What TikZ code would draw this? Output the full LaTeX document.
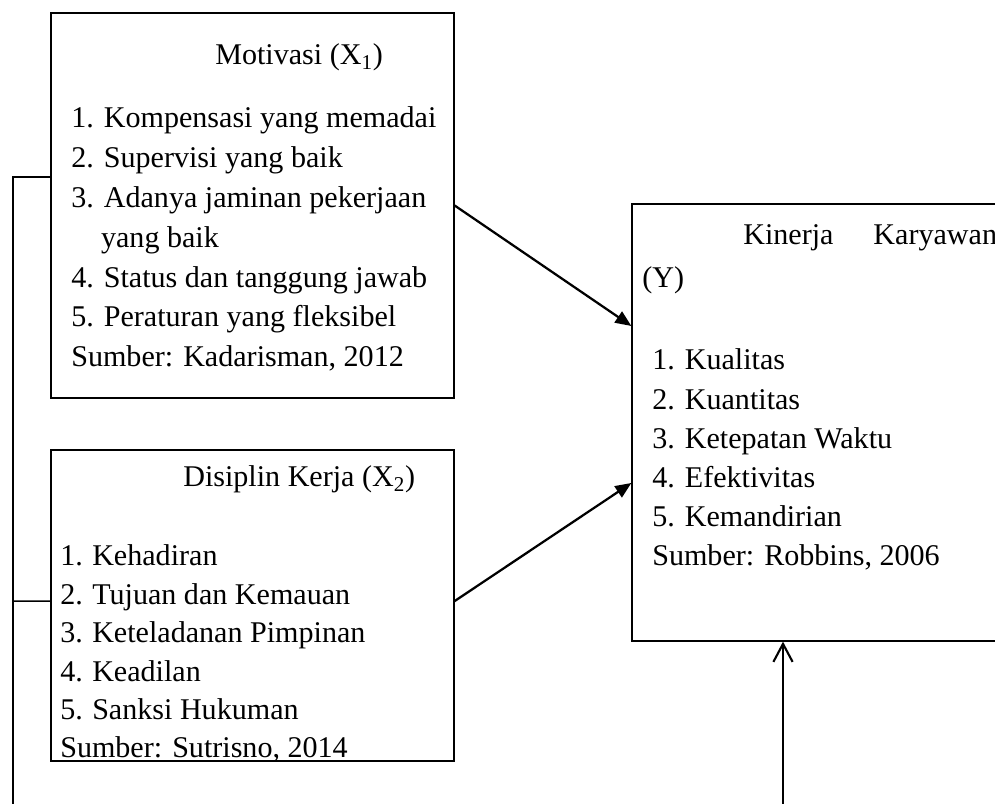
\documentclass[tikz,border=0pt]{standalone}
\usepackage{fontspec}
\setmainfont{Liberation Serif}
\usetikzlibrary{arrows.meta}
\begin{document}
\begin{tikzpicture}[
  box/.style = {draw, line width=0.9pt, rectangle, inner sep=0pt},
  txt/.style = {anchor=base west, inner sep=0pt, font=\fontsize{21.4}{25}\selectfont},
  link/.style = {line width=1.1pt},
  arr/.style = {line width=1.6pt, -{Triangle[length=4mm,width=3.3mm]}},
  openarr/.style = {line width=1.5pt, -{Straight Barb[length=4.5mm,width=4.8mm]}}
]
\useasboundingbox (0,0) rectangle (24.875,20.1);
%% boxes
\node [box, minimum width=10.075cm, minimum height=9.625cm]  (motiv)    at (6.3125,14.9625) {};
\node [box, minimum width=10.075cm, minimum height=7.775cm]  (disiplin) at (6.3125,4.9625)  {};
\node [box, minimum width=9.5cm,    minimum height=10.925cm] (kinerja)  at (20.55,9.5375)   {};
%% Motivasi
\node [txt] (mottitle) at (5.375,18.475) {Motivasi (X\textsubscript{1})};
\node [txt] (mot1) at (1.775,16.9)   {1. Kompensasi yang memadai};
\node [txt] (mot2) at (1.775,15.905) {2. Supervisi yang baik};
\node [txt] (mot3) at (1.775,14.91)  {3. Adanya jaminan pekerjaan};
\node [txt] (mot3b) at (2.52,13.915) {yang baik};
\node [txt] (mot4) at (1.775,12.92)  {4. Status dan tanggung jawab};
\node [txt] (mot5) at (1.775,11.925) {5. Peraturan yang fleksibel};
\node [txt] (motsrc) at (1.775,10.93) {Sumber: Kadarisman, 2012};
%% Disiplin kerja
\node [txt] (distitle) at (4.575,7.925) {Disiplin Kerja (X\textsubscript{2})};
\node [txt] (dis1) at (1.5,5.95)  {\makebox[0.8cm][l]{1.}Kehadiran};
\node [txt] (dis2) at (1.5,4.99)  {\makebox[0.8cm][l]{2.}Tujuan dan Kemauan};
\node [txt] (dis3) at (1.5,4.03)  {\makebox[0.8cm][l]{3.}Keteladanan Pimpinan};
\node [txt] (dis4) at (1.5,3.07)  {\makebox[0.8cm][l]{4.}Keadilan};
\node [txt] (dis5) at (1.5,2.11)  {\makebox[0.8cm][l]{5.}Sanksi Hukuman};
\node [txt] (dissrc) at (1.5,1.16) {Sumber: Sutrisno, 2014};
%% Kinerja karyawan
\node [txt] (kintitle) at (18.575,13.975) {Kinerja\hspace{1cm}Karyawan};
\node [txt] (kiny) at (16.05,12.9) {(Y)};
\node [txt] (kin1) at (16.3,10.85) {1. Kualitas};
\node [txt] (kin2) at (16.3,9.87)  {2. Kuantitas};
\node [txt] (kin3) at (16.3,8.89)  {3. Ketepatan Waktu};
\node [txt] (kin4) at (16.3,7.91)  {4. Efektivitas};
\node [txt] (kin5) at (16.3,6.93)  {5. Kemandirian};
\node [txt] (kinsrc) at (16.3,5.95) {Sumber: Robbins, 2006};
%% connectors
\coordinate (spinetop) at (0.325,15.675);
\coordinate (spinebot) at (0.325,-0.2);
\coordinate (feed) at (19.575,-0.2);
\draw [link] (spinebot) -- (spinetop) -- (motiv.west |- spinetop);
\draw [link] (spinebot |- dis2.mid) -- ([yshift=0.11cm]disiplin.west);
\draw [arr] (motiv.east) -- ([yshift=2.4125cm]kinerja.west);
\draw [arr] ([yshift=0.11cm]disiplin.east) -- ([yshift=-1.5125cm]kinerja.west);
\draw [openarr] (feed) -- (feed |- kinerja.south);
\end{tikzpicture}
\end{document}
